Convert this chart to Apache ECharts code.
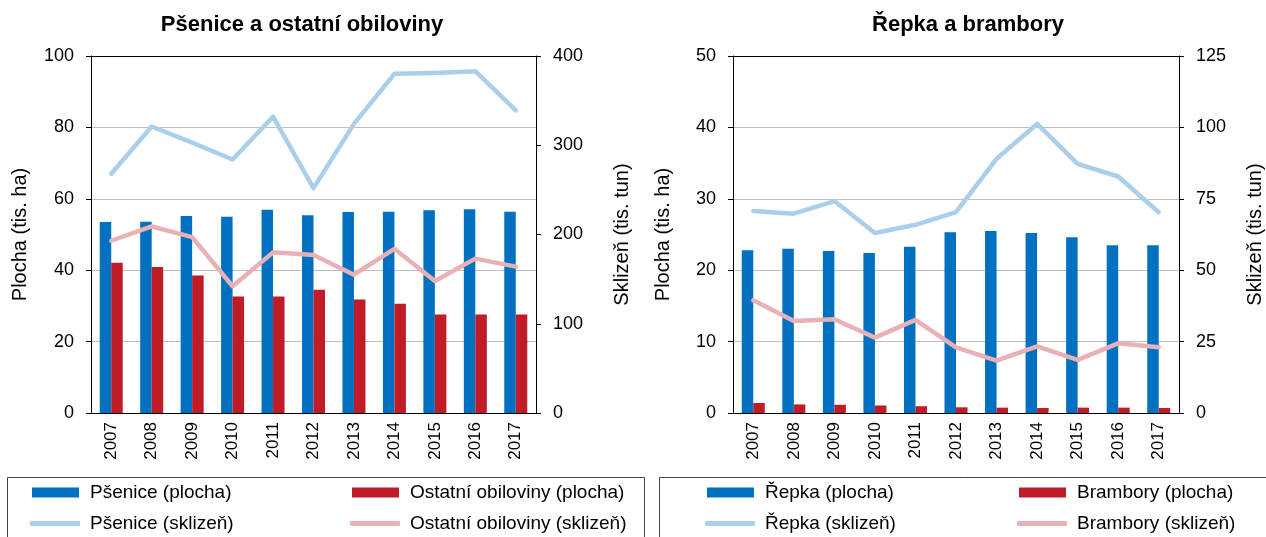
<!DOCTYPE html>
<html>
<head>
<meta charset="utf-8">
<script src="https://cdn.jsdelivr.net/npm/echarts@6/dist/echarts.min.js"></script>
<style>
    html, body { margin: 0; padding: 0; background: #fff; }
    #chart { width: 1266px; height: 537px; }
</style>
</head>
<body>
<div id="chart"></div>
<script>
var years = ['2007', '2008', '2009', '2010', '2011', '2012', '2013', '2014', '2015', '2016', '2017'];

// levy graf - psenice a ostatni obiloviny
var psenicePlocha = [53.5, 53.6, 55.2, 55.0, 56.9, 55.4, 56.3, 56.4, 56.8, 57.1, 56.4];
var obilovinyPlocha = [42.1, 40.9, 38.5, 32.6, 32.6, 34.5, 31.8, 30.6, 27.6, 27.6, 27.6];
var pseniceSklizen = [268, 321, 303, 284, 332, 252, 324, 380, 381, 383, 339];
var obilovinySklizen = [193, 209, 197, 142, 180, 177, 155, 184, 148, 173, 164];

// pravy graf - repka a brambory
var repkaPlocha = [22.8, 23.0, 22.7, 22.4, 23.3, 25.3, 25.5, 25.2, 24.6, 23.5, 23.5];
var bramboryPlocha = [1.4, 1.2, 1.15, 1.05, 0.95, 0.8, 0.75, 0.7, 0.75, 0.75, 0.7];
var repkaSklizen = [70.7, 69.8, 74.2, 63.0, 65.9, 70.3, 89.0, 101.2, 87.2, 82.8, 70.3];
var bramborySklizen = [39.5, 32.2, 32.8, 26.4, 32.6, 23.0, 18.3, 23.3, 18.6, 24.4, 23.0];

var FONT = 'Liberation Sans, Arial, sans-serif';
var BLUE = '#0070c0';
var RED = '#c01c28';
var LIGHT_BLUE = '#a9cfea';
var PINK = '#e7b1b5';

var myChart = echarts.init(document.getElementById('chart'));

function xAxes(gridIndex) {
    return [{
        type: 'category',
        gridIndex: gridIndex,
        data: years,
        axisLine: { onZero: false, lineStyle: { color: '#000', width: 1 } },
        axisTick: { length: 5, lineStyle: { color: '#000' } },
        axisLabel: { rotate: 90, margin: 9, color: '#000', fontSize: 17, fontFamily: FONT }
    }, {
        // horni hrana ramecku
        type: 'category',
        gridIndex: gridIndex,
        position: 'top',
        data: years,
        axisLine: { onZero: false, lineStyle: { color: '#000', width: 1 } },
        axisTick: { show: false },
        axisLabel: { show: false }
    }];
}

function yAxis(gridIndex, pos, max, interval, name, gap) {
    return {
        type: 'value',
        gridIndex: gridIndex,
        position: pos,
        min: 0,
        max: max,
        interval: interval,
        name: name,
        nameLocation: 'middle',
        nameGap: gap,
        nameTextStyle: { color: '#000', fontSize: 20, fontFamily: FONT },
        axisLine: { show: true, onZero: false, lineStyle: { color: '#000', width: 1 } },
        axisTick: { show: true, length: 5, lineStyle: { color: '#000' } },
        axisLabel: { margin: 17, color: '#000', fontSize: 18, fontFamily: FONT },
        splitLine: { show: pos === 'left', lineStyle: { color: '#bfbfbf', width: 1 } }
    };
}

function barSeries(name, data, color, xi, yi) {
    return {
        name: name, type: 'bar', data: data,
        xAxisIndex: xi, yAxisIndex: yi,
        barWidth: 11.5, barGap: '0%',
        itemStyle: { color: color }
    };
}

function lineSeries(name, data, color, xi, yi) {
    return {
        name: name, type: 'line', data: data,
        xAxisIndex: xi, yAxisIndex: yi,
        symbol: 'none', z: 5,
        lineStyle: { color: color, width: 4.5, cap: 'round', join: 'round' },
        itemStyle: { color: color }
    };
}

function legendItem(name, left, top, isLine) {
    return {
        data: [{ name: name, icon: isLine ? 'roundRect' : 'rect' }],
        left: left, top: top,
        padding: 0,
        itemWidth: isLine ? 50 : 47, itemHeight: isLine ? 5 : 10,
        selectedMode: false,
        textStyle: { color: '#000', fontSize: 19, fontFamily: FONT, padding: [0, 0, 0, isLine ? 5 : 6] }
    };
}

var option = {
    animation: false,
    backgroundColor: '#fff',
    title: [{
        text: 'Pšenice a ostatní obiloviny',
        left: 297, top: 9, textAlign: 'center',
        textStyle: { fontSize: 22, fontWeight: 'bold', color: '#000', fontFamily: FONT }
    }, {
        text: 'Řepka a brambory',
        left: 963, top: 9, textAlign: 'center',
        textStyle: { fontSize: 22, fontWeight: 'bold', color: '#000', fontFamily: FONT }
    }],
    grid: [
        { left: 91, right: 730, top: 56, bottom: 124 },
        { left: 733, right: 84, top: 56, bottom: 124 }
    ],
    xAxis: xAxes(0).concat(xAxes(1)),
    yAxis: [
        yAxis(0, 'left', 100, 20, 'Plocha (tis. ha)', 61),
        yAxis(0, 'right', 400, 100, 'Sklizeň (tis. tun)', 76),
        yAxis(1, 'left', 50, 10, 'Plocha (tis. ha)', 60),
        yAxis(1, 'right', 125, 25, 'Sklizeň (tis. tun)', 66)
    ],
    legend: [
        legendItem('Pšenice (plocha)', 32, 483, false),
        legendItem('Ostatní obiloviny (plocha)', 352, 483, false),
        legendItem('Pšenice (sklizeň)', 30, 514, true),
        legendItem('Ostatní obiloviny (sklizeň)', 350, 514, true),
        legendItem('Řepka (plocha)', 707, 483, false),
        legendItem('Brambory (plocha)', 1019, 483, false),
        legendItem('Řepka (sklizeň)', 705, 514, true),
        legendItem('Brambory (sklizeň)', 1017, 514, true)
    ],
    graphic: [
        { type: 'rect', shape: { x: 7.5, y: 477.5, width: 637, height: 80 },
          style: { fill: 'none', stroke: '#444', lineWidth: 1 } },
        { type: 'rect', shape: { x: 659.5, y: 477.5, width: 620, height: 80 },
          style: { fill: 'none', stroke: '#444', lineWidth: 1 } }
    ],
    series: [
        barSeries('Pšenice (plocha)', psenicePlocha, BLUE, 0, 0),
        barSeries('Ostatní obiloviny (plocha)', obilovinyPlocha, RED, 0, 0),
        lineSeries('Pšenice (sklizeň)', pseniceSklizen, LIGHT_BLUE, 0, 1),
        lineSeries('Ostatní obiloviny (sklizeň)', obilovinySklizen, PINK, 0, 1),
        barSeries('Řepka (plocha)', repkaPlocha, BLUE, 2, 2),
        barSeries('Brambory (plocha)', bramboryPlocha, RED, 2, 2),
        lineSeries('Řepka (sklizeň)', repkaSklizen, LIGHT_BLUE, 2, 3),
        lineSeries('Brambory (sklizeň)', bramborySklizen, PINK, 2, 3)
    ]
};

myChart.setOption(option);
</script>
</body>
</html>
